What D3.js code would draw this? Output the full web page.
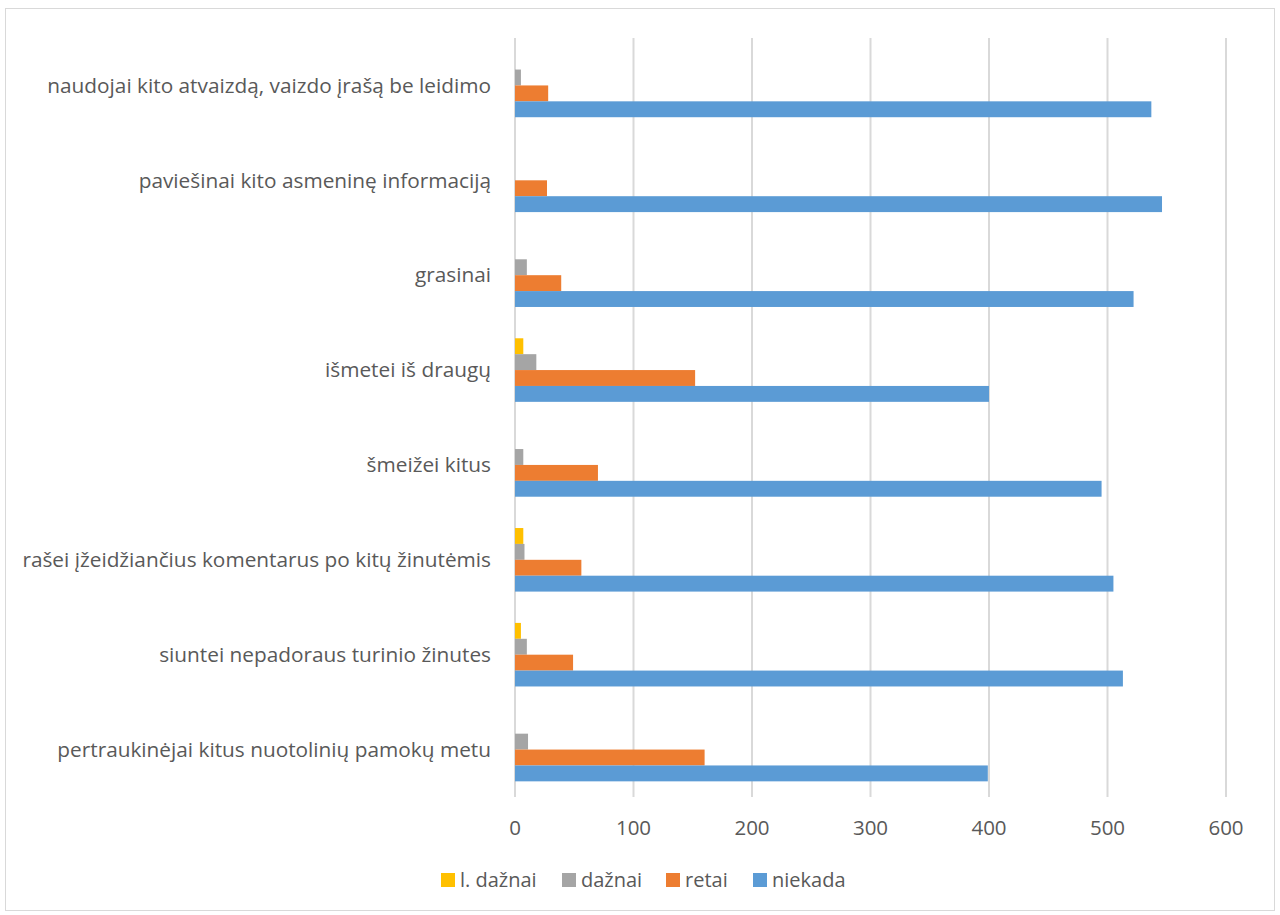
<!DOCTYPE html>
<html lang="lt">
<head>
  <meta charset="UTF-8" />
  <title>Elgesys internete</title>
  <style>
    body { margin: 0; background: #fff; }
    svg text { font-family: 'Open Sans', 'Noto Sans', sans-serif; fill: #595959; }
  </style>
</head>
<body>
  <div id="chart"></div>

  <script src="https://d3js.org/d3.v7.min.js"></script>
  <script>
    // categories, top to bottom
    const categories = [
      "naudojai kito atvaizdą, vaizdo įrašą be leidimo",
      "paviešinai kito asmeninę informaciją",
      "grasinai",
      "išmetei iš draugų",
      "šmeižei kitus",
      "rašei įžeidžiančius komentarus po kitų žinutėmis",
      "siuntei nepadoraus turinio žinutes",
      "pertraukinėjai kitus nuotolinių pamokų metu"
    ];
    const seriesNames = ["l. dažnai", "dažnai", "retai", "niekada"];
    const seriesColors = ["#ffc000", "#a5a5a5", "#ed7d31", "#5b9bd5"];

    const lDaznai = [0, 0, 0, 7, 0, 7, 5, 0];
    const daznai  = [5, 0, 10, 18, 7, 8, 10, 11];
    const retai   = [28, 27, 39, 152, 70, 56, 49, 160];
    const niekada = [537, 546, 522, 400, 495, 505, 513, 399];
    const xTicks  = [0, 100, 200, 300, 400, 500, 600];

    const values = [lDaznai, daznai, retai, niekada];

    const W = 1280, H = 915;
    const plotLeft = 515, plotRight = 1226, plotTop = 38, plotBottom = 797;

    const svg = d3.select("#chart").append("svg")
      .attr("width", W).attr("height", H);

    // outer frame
    svg.append("rect")
      .attr("x", 5.5).attr("y", 8.5)
      .attr("width", 1269).attr("height", 902)
      .attr("fill", "#fff").attr("stroke", "#d9d9d9");

    const x = d3.scaleLinear().domain([0, 600]).range([plotLeft, plotRight]);
    const y = d3.scaleBand().domain(categories).range([plotTop, plotBottom]).paddingInner(0.33).paddingOuter(0.165);
    const ySub = d3.scaleBand().domain(seriesNames).range([0, y.bandwidth()]);

    // gridlines
    svg.append("g").selectAll("line")
      .data(xTicks)
      .join("line")
      .attr("x1", d => x(d)).attr("x2", d => x(d))
      .attr("y1", plotTop).attr("y2", plotBottom)
      .attr("stroke", "#d9d9d9").attr("stroke-width", 2);

    // bars
    const groups = svg.append("g").selectAll("g")
      .data(categories)
      .join("g")
      .attr("transform", d => `translate(0,${y(d)})`);

    groups.selectAll("rect")
      .data((d, i) => seriesNames.map((s, j) => ({ s, j, v: values[j][i] })).filter(d => d.v > 0))
      .join("rect")
      .attr("x", x(0))
      .attr("y", d => ySub(d.s))
      .attr("width", d => x(d.v) - x(0))
      .attr("height", ySub.bandwidth())
      .attr("fill", d => seriesColors[d.j]);

    // category labels
    svg.append("g").selectAll("text")
      .data(categories)
      .join("text")
      .attr("x", 491)
      .attr("y", d => y(d) + y.bandwidth() / 2)
      .attr("dy", "0.35em")
      .attr("text-anchor", "end")
      .attr("font-size", 20.8)
      .text(d => d);

    // x tick labels
    svg.append("g").selectAll("text")
      .data(xTicks)
      .join("text")
      .attr("x", d => x(d))
      .attr("y", 828)
      .attr("dy", "0.35em")
      .attr("text-anchor", "middle")
      .attr("font-size", 20.5)
      .text(d => d);

    // legend
    const legendX = [441, 562, 666, 753];
    const legend = svg.append("g").selectAll("g")
      .data(seriesNames)
      .join("g")
      .attr("transform", (d, i) => `translate(${legendX[i]},880)`);
    legend.append("rect")
      .attr("x", 0).attr("y", -7)
      .attr("width", 14).attr("height", 14)
      .attr("fill", (d, i) => seriesColors[i]);
    legend.append("text")
      .attr("x", 19).attr("y", 0)
      .attr("dy", "0.35em")
      .attr("font-size", 20)
      .text(d => d);
  </script>
</body>
</html>
